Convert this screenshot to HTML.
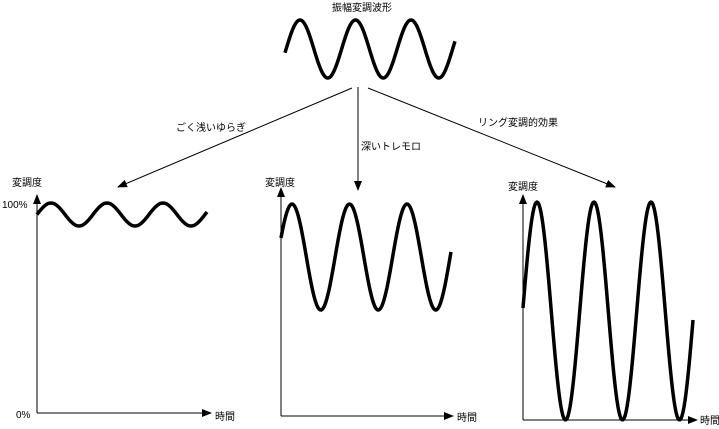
<!DOCTYPE html>
<html><head><meta charset="utf-8"><style>
html,body{margin:0;padding:0;background:#fff;}
svg{display:block;}
text{font-family:"Liberation Sans","Noto Sans CJK JP",sans-serif;font-size:10px;fill:#000;}
</style></head><body>
<svg id="s" width="719" height="429" viewBox="0 0 719 429" xmlns="http://www.w3.org/2000/svg">
<defs><marker id="a" markerWidth="10" markerHeight="8" refX="9" refY="4" orient="auto" markerUnits="userSpaceOnUse"><path d="M0,0 L10,4 L0,8 z" fill="#000"/></marker></defs>
<text x="362" y="11" text-anchor="middle">振幅変調波形</text>
<g stroke="#000" stroke-width="1" fill="none">
<line x1="352" y1="88" x2="118" y2="187" marker-end="url(#a)"/>
<line x1="358" y1="87" x2="358" y2="190" marker-end="url(#a)"/>
<line x1="368" y1="88" x2="615" y2="187" marker-end="url(#a)"/>
<line x1="37" y1="413" x2="37" y2="195" marker-end="url(#a)"/>
<line x1="37" y1="413" x2="211" y2="413" marker-end="url(#a)"/>
<line x1="281" y1="416" x2="281" y2="188" marker-end="url(#a)"/>
<line x1="281" y1="416" x2="453" y2="416" marker-end="url(#a)"/>
<line x1="523" y1="420" x2="523" y2="195" marker-end="url(#a)"/>
<line x1="523" y1="420" x2="697" y2="420" marker-end="url(#a)"/>
</g>
<text x="176" y="131">ごく浅いゆらぎ</text>
<text x="361" y="150">深いトレモロ</text>
<text x="478" y="126">リング変調的効果</text>
<text x="12" y="186">変調度</text>
<text x="2" y="208">100%</text>
<text x="16" y="418">0%</text>
<text x="215" y="420">時間</text>
<text x="265" y="186">変調度</text>
<text x="457" y="421">時間</text>
<text x="508" y="190">変調度</text>
<text x="700" y="424">時間</text>
<g id="w" stroke="#000" stroke-width="3.5" fill="none" stroke-linejoin="round"></g>
</svg>
<script>
function wave(x0,x1,peak,period,yc,amp){
  var d="";
  for(var x=x0;x<=x1;x+=1){
    var y=yc-amp*Math.cos(2*Math.PI*(x-peak)/period);
    d+=(x==x0?"M":"L")+x+","+y.toFixed(1);
  }
  var p=document.createElementNS("http://www.w3.org/2000/svg","path");
  p.setAttribute("d",d);
  document.getElementById("w").appendChild(p);
}
wave(285,455,300,55.5,49,29);
wave(37,207,51,56,214.5,11.5);
wave(281,451,292,57.5,257,53);
wave(523,693,537,57,311,109);
</script>
</body></html>
